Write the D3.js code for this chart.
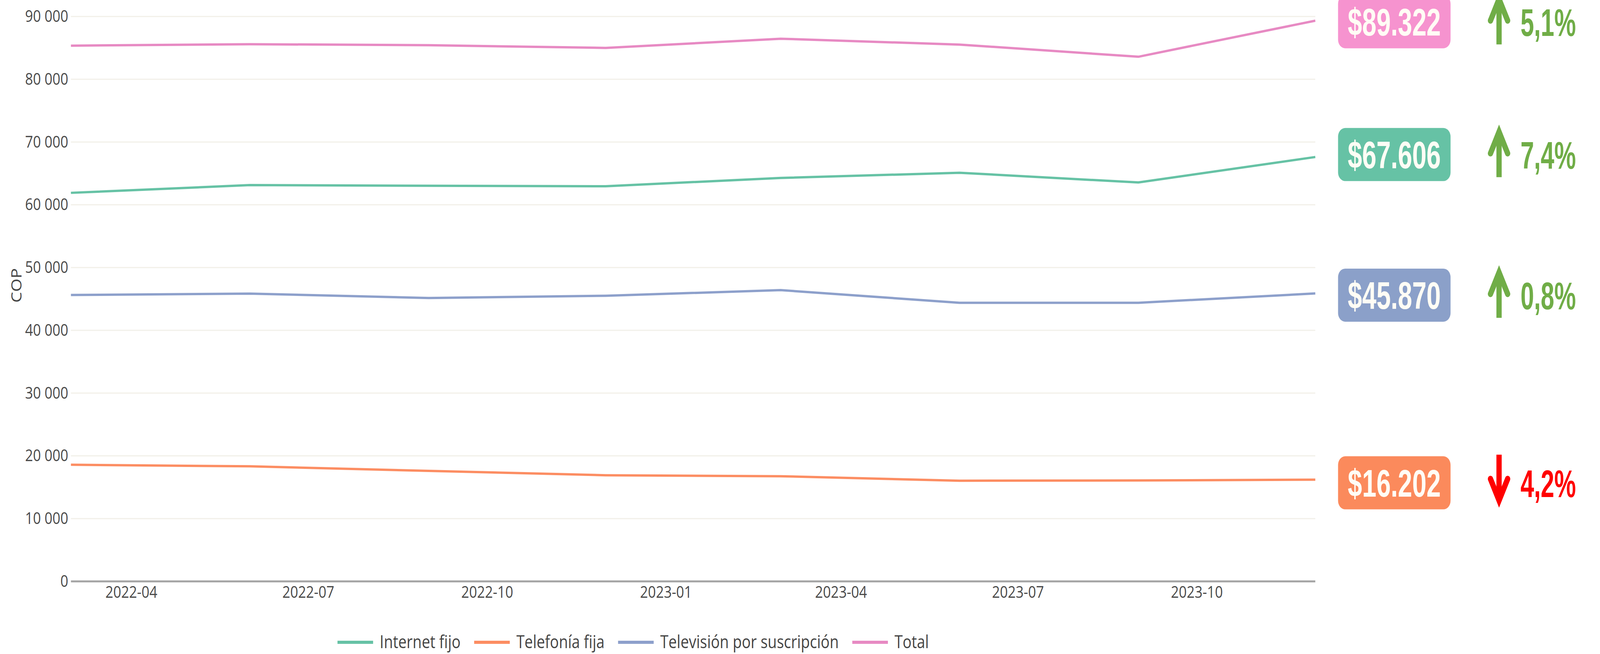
<!DOCTYPE html>
<html><head><meta charset="utf-8">
<script src="https://cdn.jsdelivr.net/npm/d3@7"></script>
<style>html,body{margin:0;padding:0;background:#fff;overflow:hidden;width:100%;height:100%} svg{display:block;position:absolute;left:0;top:0}</style>
</head><body><div id="chart"></div>
<script>
// ---------------- DATA ----------------
const dates = ["2022-03-01","2022-06-01","2022-09-01","2022-12-01","2023-03-01","2023-06-01","2023-09-01","2023-12-01"];
const seriesNames = ["Internet fijo","Telefonía fija","Televisión por suscripción","Total"];
const internetFijo = [61900, 63130, 63030, 62950, 64270, 65100, 63550, 67606];
const telefoniaFija = [18580, 18330, 17600, 16910, 16750, 16040, 16080, 16202];
const television   = [45630, 45840, 45150, 45500, 46400, 44380, 44380, 45870];
const total        = [85350, 85580, 85420, 84990, 86450, 85520, 83580, 89322];
const seriesColors = ["#66c2a5","#fc8d62","#8da0cb","#e78ac3"];
const yTicks = [0,10000,20000,30000,40000,50000,60000,70000,80000,90000];
const xTicks = ["2022-04-01","2022-07-01","2022-10-01","2023-01-01","2023-04-01","2023-07-01","2023-10-01"];
const yTitle = "COP";
// right-side annotations
const annotLabels = ["$89.322","$67.606","$45.870","$16.202"];
const annotPct    = ["5,1%","7,4%","0,8%","4,2%"];
const annotDir    = ["up","up","up","down"];
const annotY      = [89150, 68000, 45600, 15700];
const annotBoxColors = ["#f693cf","#66c2a5","#8ba0c9","#fb8a5c"];
const upColor = "#70ad47", downColor = "#ff0000";

// ---------------- LAYOUT ----------------
const W = 4850, H = 1675;
const plotL = 215, plotR = 3987, plotB = 1489, plotT = -27;
const parse = d3.timeParse("%Y-%m-%d");
const seriesValues = [internetFijo, telefoniaFija, television, total];

const x = d3.scaleTime().domain([parse(dates[0]), parse(dates[dates.length-1])]).range([plotL, plotR]);
const y = d3.scaleLinear().domain([0, 94300]).range([plotB, plotT]);

const loc = d3.formatLocale({decimal:",", thousands:" ", grouping:[3], currency:["$",""]});
const fmtY = loc.format(",d");
const fmtX = d3.timeFormat("%Y-%m");

// fill the actual viewport with the 4850x1675 design
const vw = window.innerWidth || W, vh = window.innerHeight || H;
const svg = d3.select("#chart").append("svg")
  .attr("width", vw).attr("height", vh)
  .attr("viewBox", `0 0 ${W} ${H}`).attr("preserveAspectRatio", "none")
  .style("font-family", "'Open Sans', 'DejaVu Sans', sans-serif");

// gridlines
svg.append("g").selectAll("line").data(yTicks.filter(d => d > 0)).join("line")
  .attr("x1", plotL).attr("x2", plotR)
  .attr("y1", d => y(d)).attr("y2", d => y(d))
  .attr("stroke", "#f2f0e9").attr("stroke-width", 3);

// y axis labels
const yAxis = d3.axisLeft(y).tickValues(yTicks).tickFormat(fmtY).tickSize(0).tickPadding(8);
const gy = svg.append("g").attr("transform", `translate(${plotL},0)`).call(yAxis);
gy.select(".domain").remove();
gy.selectAll("text").attr("font-size", 42).attr("fill", "#4a4a4a")
  .attr("font-family", "'Open Sans', sans-serif");

// x axis labels
const xAxis = d3.axisBottom(x).tickValues(xTicks.map(parse)).tickFormat(fmtX).tickSize(0).tickPadding(12);
const gx = svg.append("g").attr("transform", `translate(0,${plotB})`).call(xAxis);
gx.select(".domain").remove();
gx.selectAll("text").attr("font-size", 42).attr("fill", "#4a4a4a")
  .attr("font-family", "'Open Sans', sans-serif");

// zero / axis line
svg.append("line").attr("x1", plotL).attr("x2", plotR).attr("y1", y(0)).attr("y2", y(0))
  .attr("stroke", "#a4a4a4").attr("stroke-width", 5);

// y title
svg.append("text").attr("transform", `translate(48,${(plotT+plotB)/2}) rotate(-90)`)
  .attr("text-anchor", "middle").attr("dominant-baseline", "central")
  .attr("font-size", 44).attr("fill", "#444").text(yTitle);

// lines
const line = d3.line().x((d,i) => x(parse(dates[i]))).y(d => y(d));
svg.append("g").selectAll("path").data(seriesValues).join("path")
  .attr("d", d => line(d)).attr("fill", "none")
  .attr("stroke", (d,i) => seriesColors[i]).attr("stroke-width", 6)
  .attr("stroke-linejoin", "round");

// legend
const legBase = 1660;
const leg = svg.append("g").attr("font-size", 45).attr("fill", "#444");
let lx = 1023;
seriesNames.forEach((name, i) => {
  leg.append("line").attr("x1", lx).attr("x2", lx + 108).attr("y1", legBase - 15).attr("y2", legBase - 15)
    .attr("stroke", seriesColors[i]).attr("stroke-width", 8);
  const t = leg.append("text").attr("x", lx + 128).attr("y", legBase).text(name);
  const w = t.node().getComputedTextLength();
  lx = lx + 128 + w + 41;
});

// annotations
const boxL = 4056, boxW = 341, boxH = 136, arrowX = 4544, pctX = 4609;
const ann = svg.append("g");
annotLabels.forEach((lab, i) => {
  const cy = y(annotY[i]);
  ann.append("rect").attr("x", boxL).attr("y", cy - boxH/2).attr("width", boxW).attr("height", boxH)
    .attr("rx", 22).attr("ry", 22).attr("fill", annotBoxColors[i]);
  ann.append("text").attr("x", boxL + boxW/2).attr("y", cy + 35).attr("text-anchor", "middle")
    .attr("font-family", "'Liberation Sans Narrow', 'Arial Narrow', 'Liberation Sans', sans-serif")
    .attr("font-weight", "bold").attr("font-size", 98).attr("fill", "#fffdf5")
    .attr("textLength", 282).attr("lengthAdjust", "spacingAndGlyphs").text(lab);

  const up = annotDir[i] === "up";
  const col = up ? upColor : downColor;
  const tip = up ? cy - 78 : cy + 65;
  const tail = up ? cy + 58 : cy - 72;
  const dirS = up ? 1 : -1;
  const vtx = tip + dirS * 20;
  ann.append("line").attr("x1", arrowX).attr("x2", arrowX).attr("y1", tail).attr("y2", vtx + dirS*4)
    .attr("stroke", col).attr("stroke-width", 16);
  ann.append("path")
    .attr("d", `M${arrowX-26},${vtx + dirS*55} L${arrowX},${vtx} L${arrowX+26},${vtx + dirS*55}`)
    .attr("fill", "none").attr("stroke", col).attr("stroke-width", 16)
    .attr("stroke-linejoin", "miter").attr("stroke-linecap", "round").attr("stroke-miterlimit", 6);

  ann.append("text").attr("x", pctX).attr("y", cy + 36)
    .attr("font-family", "'Liberation Sans Narrow', 'Arial Narrow', 'Liberation Sans', sans-serif")
    .attr("font-weight", "bold").attr("font-size", 98).attr("fill", col)
    .attr("textLength", 168).attr("lengthAdjust", "spacingAndGlyphs").text(annotPct[i]);
});
</script>
</body></html>
